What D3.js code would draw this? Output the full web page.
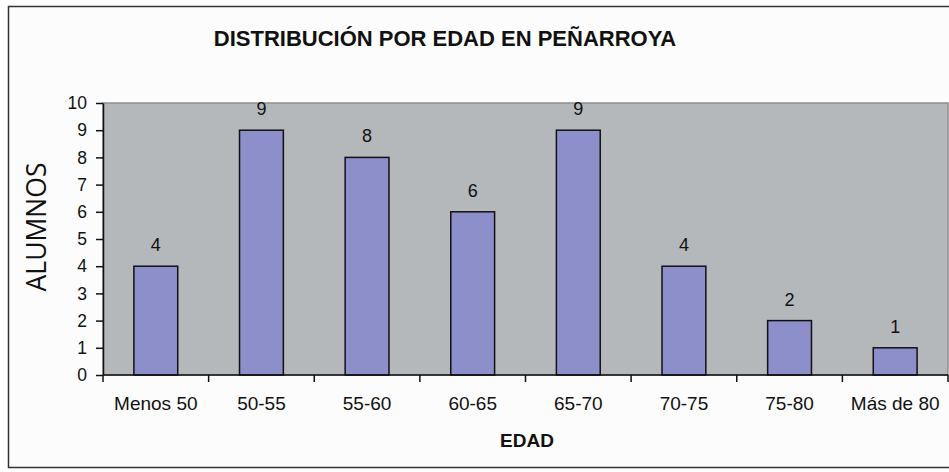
<!DOCTYPE html>
<html><head><meta charset="utf-8">
<script src="https://cdn.jsdelivr.net/npm/d3@7"></script>
<style>body{margin:0;background:#fff}svg{display:block}</style>
</head><body>
<script>
const categories = ["Menos 50","50-55","55-60","60-65","65-70","70-75","75-80","Más de 80"];
const values = [4,9,8,6,9,4,2,1];
const yTicks = [0,1,2,3,4,5,6,7,8,9,10];
const title = "DISTRIBUCIÓN POR EDAD EN PEÑARROYA";
const xTitle = "EDAD";
const yTitle = "ALUMNOS";

const W = 949, H = 472;
const m = {left:103, right:1, top:103, bottom:97};
const FONT = "Liberation Sans, Arial, sans-serif";
const svg = d3.select("body").append("svg").attr("width",W).attr("height",H);
svg.append("rect").attr("x",0).attr("y",0).attr("width",W).attr("height",H).attr("fill","#fff");
svg.append("rect").attr("x",8.5).attr("y",6.5).attr("width",W).attr("height",461)
  .attr("fill","#fcfcfc").attr("stroke","#333").attr("stroke-width",1.5);

const x = d3.scaleBand().domain(categories).range([m.left, W-m.right]).paddingInner(0.585).paddingOuter(0.2925);
const y = d3.scaleLinear().domain([0,10]).range([H-m.bottom, m.top]);

svg.append("rect").attr("x",m.left).attr("y",m.top).attr("width",W-m.right-m.left).attr("height",H-m.bottom-m.top)
  .attr("fill","#b5b8bb").attr("stroke","#8e8e90").attr("stroke-width",1.5);

svg.selectAll("rect.bar").data(values).join("rect").attr("class","bar")
  .attr("x",(d,i)=>x(categories[i])).attr("width",x.bandwidth())
  .attr("y",d=>y(d)).attr("height",d=>y(0)-y(d))
  .attr("fill","#8c8fca").attr("stroke","#111").attr("stroke-width",1.5);

svg.selectAll("text.val").data(values).join("text").attr("class","val")
  .attr("x",(d,i)=>x(categories[i])+x.bandwidth()/2).attr("y",d=>y(d)-15)
  .attr("text-anchor","middle").attr("font-family",FONT)
  .attr("font-size",18).attr("fill","#111").text(d=>d);

// Y axis
const yAxis = svg.append("g").attr("transform",`translate(${m.left},0)`)
  .call(d3.axisLeft(y).tickValues(yTicks).tickSize(7).tickPadding(9).tickSizeOuter(0));
yAxis.select(".domain").attr("stroke","#111").attr("stroke-width",1.5);
yAxis.selectAll(".tick line").attr("stroke","#111").attr("stroke-width",1.5);
yAxis.selectAll("text").attr("font-family",FONT).attr("font-size",17.5).attr("fill","#111");

// X axis
const bx = d3.scaleLinear().domain([0,categories.length]).range([m.left, W-m.right]);
const xg = svg.append("g").attr("transform",`translate(0,${H-m.bottom})`);
xg.append("line").attr("x1",m.left).attr("x2",W-m.right).attr("stroke","#111").attr("stroke-width",1.5);
xg.selectAll("line.tk").data(d3.range(0,categories.length+1)).join("line").attr("class","tk")
  .attr("x1",d=>bx(d)).attr("x2",d=>bx(d)).attr("y1",0).attr("y2",7).attr("stroke","#111").attr("stroke-width",1.5);
xg.selectAll("text").data(categories).join("text")
  .attr("x",d=>x(d)+x.bandwidth()/2).attr("y",35).attr("text-anchor","middle")
  .attr("font-family",FONT).attr("font-size",19).attr("fill","#111").text(d=>d);

svg.append("text").attr("x",445).attr("y",45.5).attr("text-anchor","middle")
  .attr("font-family",FONT).attr("font-weight","bold").attr("font-size",22)
  .attr("fill","#111").text(title);
svg.append("text").attr("x",527).attr("y",447).attr("text-anchor","middle")
  .attr("font-family",FONT).attr("font-weight","bold").attr("font-size",19)
  .attr("fill","#111").text(xTitle);
svg.append("text").attr("transform","translate(46,227) rotate(-90)").attr("text-anchor","middle")
  .attr("font-family","Open Sans, sans-serif").attr("font-size",26.5)
  .attr("fill","#111").text(yTitle);
</script>
</body></html>
